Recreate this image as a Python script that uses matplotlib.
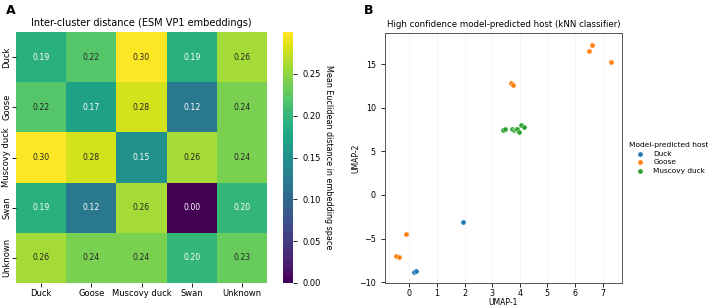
import numpy as np
import matplotlib
matplotlib.use("Agg")
import matplotlib.pyplot as plt
import seaborn as sns

# Panel A data
hosts = ["Duck", "Goose", "Muscovy duck", "Swan", "Unknown"]
dist = np.array([
    [0.19, 0.22, 0.30, 0.19, 0.26],
    [0.22, 0.17, 0.28, 0.12, 0.24],
    [0.30, 0.28, 0.15, 0.26, 0.24],
    [0.19, 0.12, 0.26, 0.00, 0.199],
    [0.26, 0.24, 0.24, 0.199, 0.23],
])

# Panel B data
duck_x = [1.96, 0.18, 0.25]
duck_y = [-3.05, -8.84, -8.73]
goose_x = [6.50, 6.61, 7.30, 3.68, 3.76, -0.47, -0.36, -0.12]
goose_y = [16.54, 17.26, 15.28, 12.88, 12.61, -6.97, -7.09, -4.46]
muscovy_x = [3.39, 3.46, 3.71, 3.79, 3.88, 3.90, 3.96, 4.03, 4.17]
muscovy_y = [7.43, 7.62, 7.55, 7.47, 7.58, 7.55, 7.24, 8.04, 7.85]

W, H = 708, 306
fig = plt.figure(figsize=(W / 100, H / 100), dpi=100)

def px(l, t, r, b):
    return [l / W, 1 - b / H, (r - l) / W, (b - t) / H]

# Heatmap
ax1 = fig.add_axes(px(16, 32, 267, 283))
cax = fig.add_axes(px(283, 32, 293, 283))
sns.heatmap(dist, ax=ax1, cbar_ax=cax, cmap="viridis", vmin=0, vmax=dist.max(),
            annot=True, fmt=".2f", annot_kws={"fontsize": 5.6},
            xticklabels=hosts, yticklabels=hosts)
ax1.set_title("Inter-cluster distance (ESM VP1 embeddings)", fontsize=7, pad=4)
ax1.tick_params(labelsize=6, length=3, width=0.6)
ax1.tick_params(axis="x", pad=1.5)
ax1.tick_params(axis="y", pad=0.5)
plt.setp(ax1.get_xticklabels(), rotation=0)
plt.setp(ax1.get_yticklabels(), rotation=90, va="center")
cax.tick_params(labelsize=6, length=3, width=0.6)
cax.set_yticks([0, 0.05, 0.10, 0.15, 0.20, 0.25])
cax.set_ylabel("Mean Euclidean distance in embedding space", rotation=270,
               fontsize=5.8, labelpad=9)

# Scatter
ax2 = fig.add_axes(px(385, 33, 622, 283))
ax2.scatter(duck_x, duck_y, s=14, color="#1f77b4", edgecolor="white", linewidth=0.3, label="Duck")
ax2.scatter(goose_x, goose_y, s=14, color="#ff7f0e", edgecolor="white", linewidth=0.3, label="Goose")
ax2.scatter(muscovy_x, muscovy_y, s=14, color="#2ca02c", edgecolor="white", linewidth=0.3, label="Muscovy duck")
ax2.set_xlim(-0.88, 7.70)
ax2.set_ylim(-10.1, 18.58)
ax2.set_xticks(range(0, 8))
ax2.set_yticks([-10, -5, 0, 5, 10, 15])
ax2.grid(axis="x", color="#f4f4f4", linewidth=0.6)
ax2.set_axisbelow(True)
ax2.tick_params(labelsize=5.8, length=3, width=0.6)
ax2.tick_params(axis="x", pad=1.5)
for s in ax2.spines.values():
    s.set_color("#555555")
    s.set_linewidth(0.7)
ax2.set_title("High confidence model-predicted host (kNN classifier)", fontsize=6.2, pad=4)
ax2.set_xlabel("UMAP-1", fontsize=5.5, labelpad=0)
ax2.set_ylabel("UMAP-2", fontsize=5.5, labelpad=-1)
ax2.legend(title="Model-predicted host", loc="center left", bbox_to_anchor=(1.0, 0.5),
           frameon=False, fontsize=5.3, title_fontsize=5.4, markerscale=1.0,
           handletextpad=0.8, labelspacing=0.35, borderaxespad=0.6)

fig.text(6 / W, 1 - 14 / H, "A", fontsize=9, fontweight="bold")
fig.text(364 / W, 1 - 14 / H, "B", fontsize=9, fontweight="bold")

fig.savefig("out.png", dpi=100)
